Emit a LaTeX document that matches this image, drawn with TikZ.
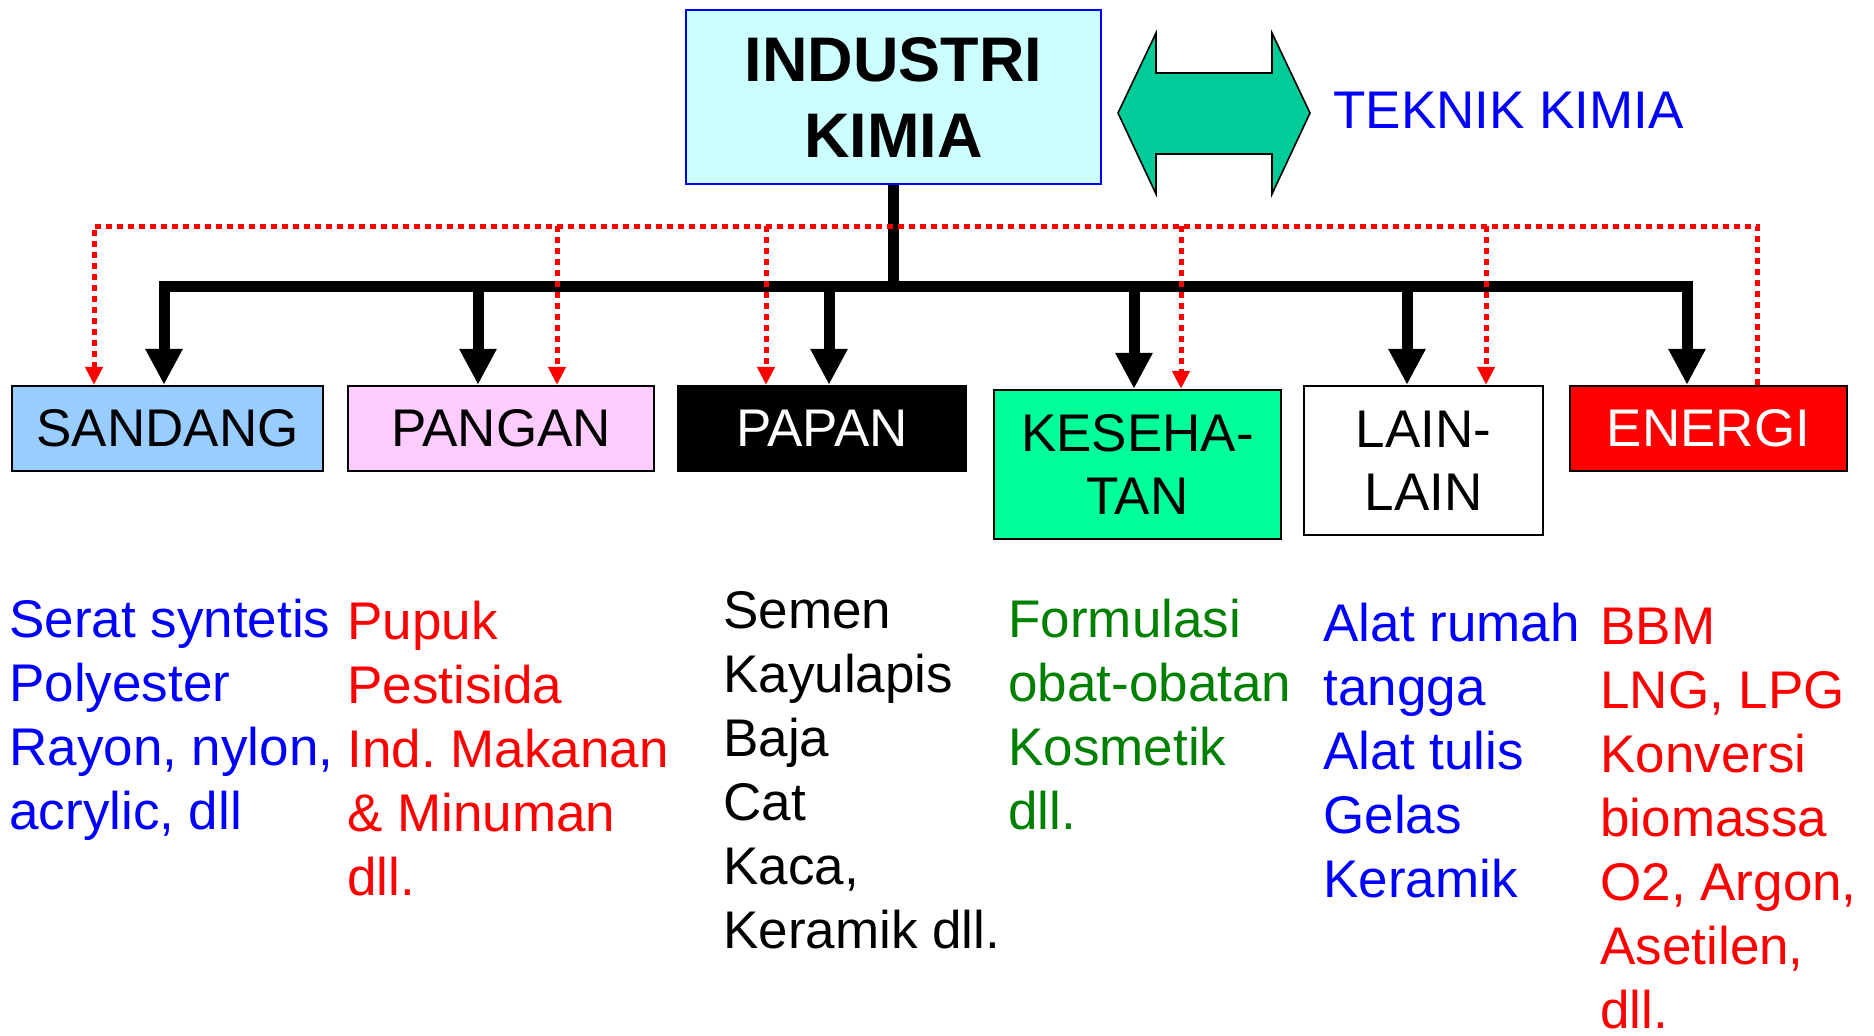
\documentclass[tikz,border=0pt]{standalone}
\usepackage{fontspec}
\setmainfont{Liberation Sans}
\frenchspacing
\usetikzlibrary{arrows.meta}
\definecolor{cyanmuda}{HTML}{CCFFFF}
\definecolor{birumuda}{HTML}{99CCFF}
\definecolor{merahmuda}{HTML}{FFCCFF}
\definecolor{hijaumuda}{HTML}{00FF99}
\definecolor{tosca}{HTML}{00CC99}
\definecolor{hijautua}{HTML}{008000}
\definecolor{biru}{HTML}{0000FF}
\definecolor{merah}{HTML}{FF0000}
\tikzset{
  bigtip/.tip={Triangle[length=18pt,width=17.5pt]},
  smalltip/.tip={Triangle[length=9pt,width=8.5pt]},
  kotak/.style={draw=black, line width=1.2pt, inner sep=0pt, align=center, font=\fontsize{26.5}{31.5}\selectfont},
  tree/.style={line width=5.5pt, -bigtip},
  feed/.style={draw=merah, line width=2.5pt, dash pattern=on 3pt off 2.5pt},
  daftar/.style={anchor=base west, inner sep=0pt, align=left, font=\fontsize{26.5}{32}\selectfont}
}

\begin{document}
\begin{tikzpicture}[x=0.5pt, y=-0.5pt]
        \useasboundingbox (0,0) rectangle (1874,1035);
        % top
        \node[kotak, draw=biru, fill=cyanmuda, minimum width=207.5pt, minimum height=87pt, font=\bfseries\fontsize{31.5}{38}\selectfont] (ik) at (893.5,97) {INDUSTRI\\KIMIA};
        \filldraw[fill=tosca, draw=black, line width=0.8pt] (1118,113) -- (1156,33) -- (1156,73) -- (1272,73) -- (1272,33) -- (1310,113) -- (1272,194) -- (1272,154) -- (1156,154) -- (1156,194) -- cycle;
        \node[anchor=base west, inner sep=0pt, text=biru, font=\fontsize{26.5}{32}\selectfont] (tk) at (1333,128) {TEKNIK KIMIA};

        % boxes
        \node[kotak, fill=birumuda, minimum width=155.5pt, minimum height=42.5pt] (sandang) at (167.5,428.5) {SANDANG};
        \node[kotak, fill=merahmuda, minimum width=153pt, minimum height=42.5pt] (pangan) at (501,428.5) {PANGAN};
        \node[kotak, fill=black, text=white, minimum width=144pt, minimum height=42.5pt] (papan) at (822,428.5) {PAPAN};
        \node[kotak, fill=hijaumuda, minimum width=143.5pt, minimum height=74.5pt] (sehat) at (1137.5,464.5) {KESEHA-\\TAN};
        \node[kotak, fill=white, minimum width=119.5pt, minimum height=74.5pt] (lain) at (1423.5,460.5) {LAIN-\\LAIN};
        \node[kotak, fill=merah, text=white, minimum width=138.5pt, minimum height=42.5pt] (energi) at (1708.5,428.5) {ENERGI};

        % bus
        \coordinate (b1) at (164,286);
        \coordinate (b2) at (478,286);
        \coordinate (b3) at (829,286);
        \coordinate (b4) at (1134,286);
        \coordinate (b5) at (1407,286);
        \coordinate (b6) at (1687,286);
        \coordinate (r1) at (94,226);
        \coordinate (r2) at (557,226);
        \coordinate (r3) at (766,226);
        \coordinate (r4) at (1181,226);
        \coordinate (r5) at (1486,226);
        \coordinate (r6) at (1757,226);

        % black tree
        \draw[line width=5.5pt] (ik.south) -- (ik.south |- b1);
        \draw[tree, bigtip-bigtip] (b1 |- sandang.north) -- (b1) -- (b6) -- (b6 |- energi.north);
        \draw[tree] (b2) -- (b2 |- pangan.north);
        \draw[tree] (b3) -- (b3 |- papan.north);
        \draw[tree] (b4) -- (b4 |- sehat.north);
        \draw[tree] (b5) -- (b5 |- lain.north);

        % red dotted
        \draw[feed, smalltip-] (r1 |- sandang.north) -- (r1) -- (r6) -- (r6 |- energi.north);
        \draw[feed, -smalltip] (r2) -- (r2 |- pangan.north);
        \draw[feed, -smalltip] (r3) -- (r3 |- papan.north);
        \draw[feed, -smalltip] (r4) -- (r4 |- sehat.north);
        \draw[feed, -smalltip] (r5) -- (r5 |- lain.north);

        % lists (base = last line)
        \node[daftar, text=biru] (l1) at (9,829) {Serat syntetis\\Polyester\\Rayon, nylon,\\acrylic, dll};
        \node[daftar, text=merah] (l2) at (347,895) {Pupuk\\Pestisida\\Ind. Makanan\\\& Minuman\\dll.};
        \node[daftar] (l3) at (723,948) {Semen\\Kayulapis\\Baja\\Cat\\Kaca,\\Keramik dll.};
        \node[daftar, text=hijautua] (l4) at (1008,829) {Formulasi\\obat-obatan\\Kosmetik\\dll.};
        \node[daftar, text=biru] (l5) at (1323,897) {Alat rumah\\tangga\\Alat tulis\\Gelas\\Keramik};
        \node[daftar, text=merah] (l6) at (1600,1028) {BBM\\LNG, LPG\\Konversi\\biomassa\\O2, Argon,\\Asetilen,\\dll.};
    \end{tikzpicture}
\end{document}
